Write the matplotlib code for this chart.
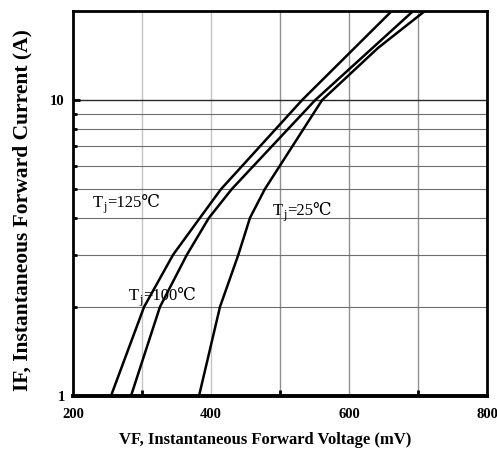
import matplotlib
matplotlib.use("Agg")
import matplotlib.pyplot as plt
from matplotlib.ticker import FixedLocator, NullFormatter

# Data
current_25 = [1, 2, 3, 4, 5, 10, 15, 20]
vf_25 = [382.6, 413, 439.6, 456.5, 478, 561, 642, 710]
current_100 = [1, 2, 3, 4, 5, 10, 20]
vf_100 = [284, 326, 365, 397, 430, 551, 693]
current_125 = [1, 2, 3, 4, 5, 10, 20]
vf_125 = [255, 303, 345, 384, 414.5, 532, 662]

x_major = [200, 400, 600, 800]
x_minor = [300, 500, 700]
y_major = [1, 10]
y_minor = [2, 3, 4, 5, 6, 7, 8, 9]

temps = ['125', '100', '25']

serif = ['Liberation Serif', 'DejaVu Serif']
plt.rcParams['font.family'] = serif

W, H = 497, 461
fig = plt.figure(figsize=(W / 100, H / 100), dpi=100)
L, R, T, B = 73, 487, 11, 396
ax = fig.add_axes([L / W, 1 - B / H, (R - L) / W, (B - T) / H])

ax.set_yscale('log')
ax.set_xlim(200, 800)
ax.set_ylim(1, 20)

# grid
for xv in [300, 400]:
    ax.axvline(xv, color='#c4c4c4', lw=1.0, zorder=1)
for xv in [500, 600, 700]:
    ax.axvline(xv, color='#909090', lw=1.0, zorder=1)
for yv in y_minor:
    ax.axhline(yv, color='#6e6e6e', lw=0.8, zorder=1)
ax.axhline(10, color='#2a2a2a', lw=1.0, zorder=1)

for xs, ys in [(vf_125, current_125), (vf_100, current_100), (vf_25, current_25)]:
    ax.plot(xs, ys, color='black', lw=1.8, zorder=3, solid_joinstyle='miter')

ax.xaxis.set_major_locator(FixedLocator(x_major))
ax.xaxis.set_minor_locator(FixedLocator(x_minor))
ax.yaxis.set_major_locator(FixedLocator(y_major))
ax.yaxis.set_minor_locator(FixedLocator(y_minor))
ax.yaxis.set_minor_formatter(NullFormatter())
ax.set_xticklabels([str(v) for v in x_major], fontweight='bold', fontsize=10.5)
ax.set_yticklabels([str(v) for v in y_major], fontweight='bold', fontsize=10.5)

ax.tick_params(axis='both', which='both', direction='in', width=2, color='black')
ax.tick_params(axis='x', which='major', length=0, pad=9)
ax.tick_params(axis='x', which='minor', length=4)
ax.tick_params(axis='y', which='major', length=5, pad=6)
ax.tick_params(axis='y', which='minor', length=3)

for side in ['top', 'left', 'right']:
    ax.spines[side].set_linewidth(2)
ax.spines['bottom'].set_linewidth(2.8)

fig.text(265 / W, 1 - 440 / H, 'VF, Instantaneous Forward Voltage (mV)',
         ha='center', va='center', fontweight='bold', fontsize=12, family=serif)
fig.text(22 / W, 1 - 210 / H, 'IF, Instantaneous Forward Current (A)',
         ha='center', va='center', rotation=90, fontweight='bold', fontsize=15.5, family=serif)


def px2data(px, py):
    return 200 + (px - L) / 0.69, 10 ** ((B - py) / 296)


for label, (px, py) in zip(temps, [(93, 207), (129, 300), (273, 215)]):
    xd, yd = px2data(px, py)
    tT = ax.text(xd, yd, 'T', fontsize=12, ha='left', va='baseline', zorder=4)
    tj = ax.annotate('j', xy=(1, 0), xycoords=tT, xytext=(0.2, -1.6),
                     textcoords='offset points', fontsize=8.5, ha='left', va='bottom', zorder=4)
    ax.annotate('=' + label + '℃', xy=(1, 0), xycoords=(tj, tT), xytext=(0.3, 0),
                textcoords='offset points', fontsize=12, ha='left', va='bottom',
                family=serif, zorder=4)

fig.savefig('out.png', dpi=100)
